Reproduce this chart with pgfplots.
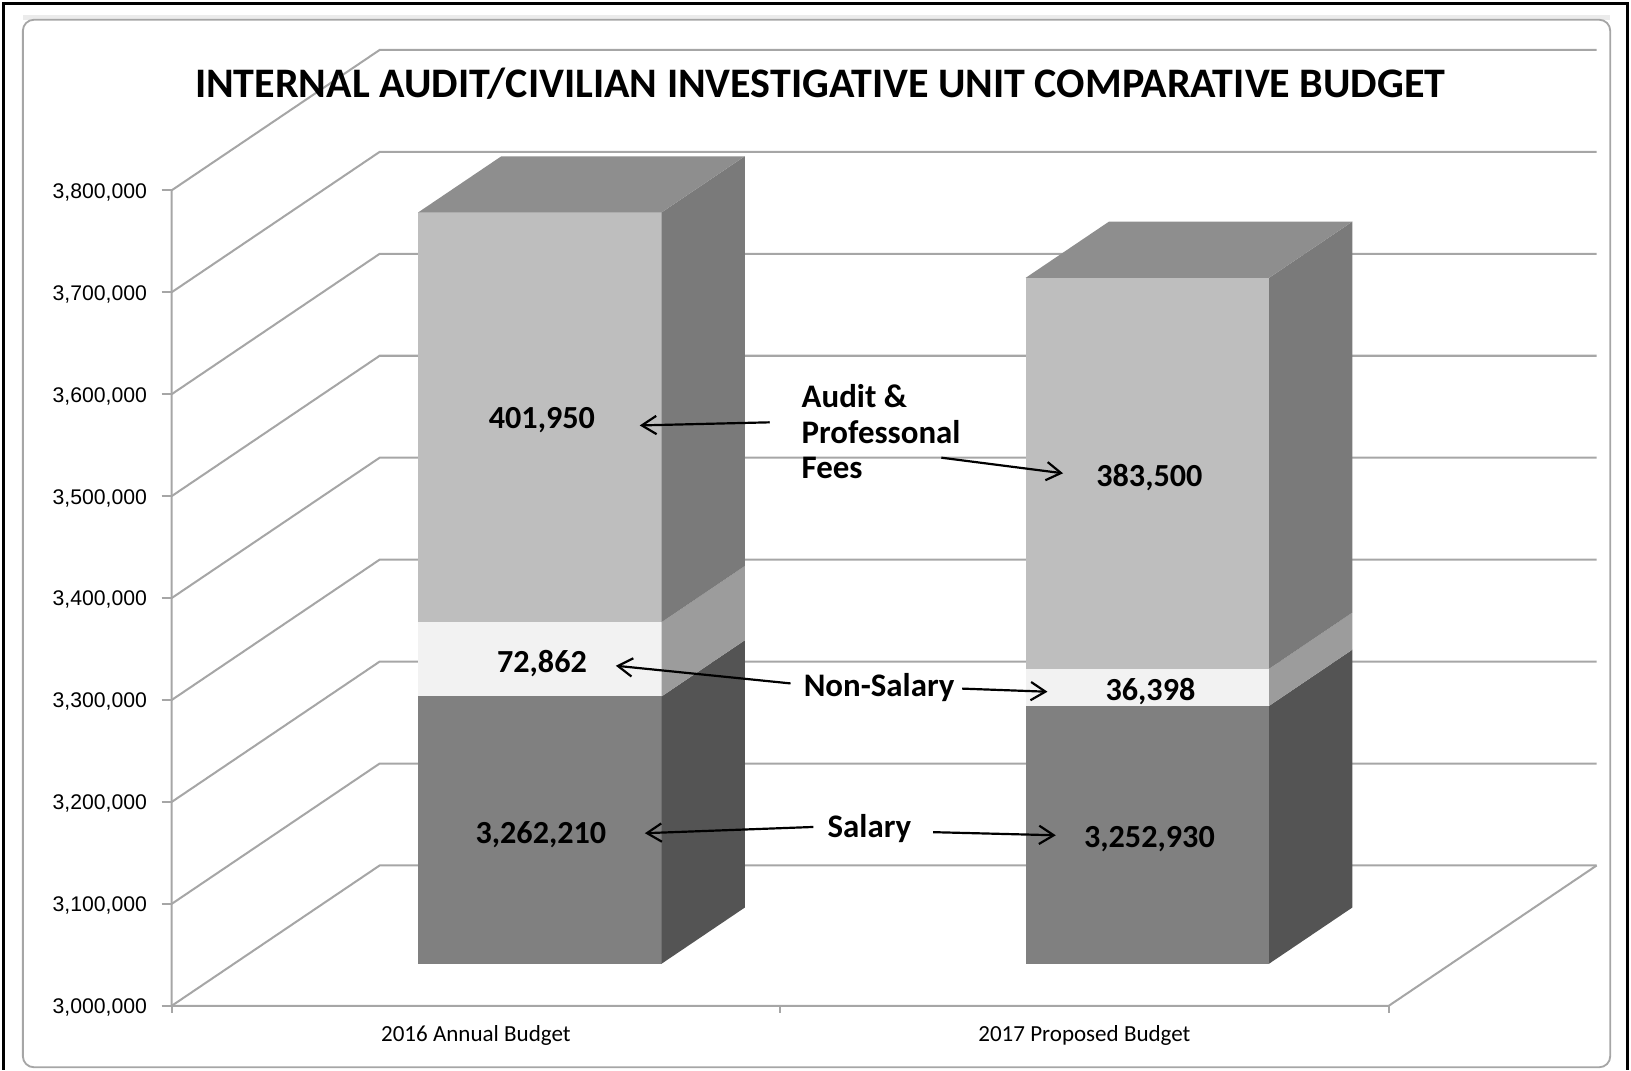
\documentclass[border=0pt]{standalone}
\usepackage{pgfplots}
\pgfplotsset{compat=1.18}
\usetikzlibrary{arrows.meta}
\usepackage{fontspec}
\setmainfont{Carlito}
\newfontfamily\tickfont{Liberation Sans}
\definecolor{gridc}{HTML}{A6A6A6}
\definecolor{topc}{HTML}{8E8E8E}
\definecolor{audfront}{HTML}{BEBEBE}
\definecolor{audside}{HTML}{7A7A7A}
\definecolor{nsfront}{HTML}{F2F2F2}
\definecolor{nsside}{HTML}{9C9C9C}
\definecolor{salfront}{HTML}{808080}
\definecolor{salside}{HTML}{545454}
% one stacked segment of a 3-D column: #1 left x, #2 right x, #3 bottom value, #4 top value, #5 front colour, #6 side colour
\newcommand\seg[6]{%
  \addplot[fill=#5, draw=none, forget plot] table[row sep=\\,
    x expr={\thisrow{x}+200*\thisrow{d}},
    y expr={(#3)+((#4)-(#3))*\thisrow{t}+137755*\thisrow{d}}]
    {x t d\\ #1 0 0.3\\ #2 0 0.3\\ #2 1 0.3\\ #1 1 0.3\\};
  \addplot[fill=#6, draw=none, forget plot] table[row sep=\\,
    x expr={\thisrow{x}+200*\thisrow{d}},
    y expr={(#3)+((#4)-(#3))*\thisrow{t}+137755*\thisrow{d}}]
    {x t d\\ #2 0 0.3\\ #2 0 0.7\\ #2 1 0.7\\ #2 1 0.3\\};
}
% top face: #1 left x, #2 right x, #3 top value
\newcommand\topface[3]{%
  \addplot[fill=topc, draw=none, forget plot] table[row sep=\\,
    x expr={\thisrow{x}+200*\thisrow{d}},
    y expr={(#3)+137755*\thisrow{d}}]
    {x d\\ #1 0.3\\ #2 0.3\\ #2 0.7\\ #1 0.7\\};
}
\begin{document}
\begin{tikzpicture}
\begin{axis}[
  scale only axis, width=13.70cm, height=9.20cm,
  xmin=0, xmax=1370, ymin=3000000, ymax=3938775.5,
  axis lines*=left, axis line style={draw=none},
  clip=false,
  xtick={292.5,877.5},
  xticklabels={2016 Annual Budget, 2017 Proposed Budget},
  xtick style={draw=none},
  ytick={3000000,3100000,3200000,3300000,3400000,3500000,3600000,3700000,3800000},
  scaled y ticks=false,
  tick align=outside,
  major tick length=0.096cm,
  ytick style={draw=gridc, line width=0.5pt},
  /pgf/number format/assume math mode=true,
  yticklabel style={/pgf/number format/fixed, /pgf/number format/precision=0,
    /pgf/number format/1000 sep={,},
    font=\tickfont\fontsize{5.8}{7}\selectfont, xshift=-0.5pt, yshift=-0.5pt},
  xticklabel style={font=\fontsize{6.3}{7.5}\selectfont, yshift=1pt},
]
% picture extent and frame
\coordinate (bbl) at (axis cs:-165,2936735);
\coordinate (btr) at (axis cs:1403,3986735);
\fill[black!8] (axis cs:-143,3972449) rectangle (axis cs:1383,3967347);
\draw[black!35, line width=0.5pt, rounded corners=3pt] (axis cs:-143,2939796) rectangle (axis cs:1383,3967347);
\draw[black, line width=0.8pt] (axis cs:-161.5,2937500) -- (axis cs:-161.5,3983163) -- (axis cs:1399.5,3983163) -- (axis cs:1399.5,2937500);

% walls and gridlines
\addplot[gridc, line width=0.55pt, forget plot] coordinates {(0,3000000) (200,3137755) (1370,3137755)};
\addplot[gridc, line width=0.55pt, forget plot] coordinates {(0,3100000) (200,3237755) (1370,3237755)};
\addplot[gridc, line width=0.55pt, forget plot] coordinates {(0,3200000) (200,3337755) (1370,3337755)};
\addplot[gridc, line width=0.55pt, forget plot] coordinates {(0,3300000) (200,3437755) (1370,3437755)};
\addplot[gridc, line width=0.55pt, forget plot] coordinates {(0,3400000) (200,3537755) (1370,3537755)};
\addplot[gridc, line width=0.55pt, forget plot] coordinates {(0,3500000) (200,3637755) (1370,3637755)};
\addplot[gridc, line width=0.55pt, forget plot] coordinates {(0,3600000) (200,3737755) (1370,3737755)};
\addplot[gridc, line width=0.55pt, forget plot] coordinates {(0,3700000) (200,3837755) (1370,3837755)};
\addplot[gridc, line width=0.55pt, forget plot] coordinates {(0,3800000) (200,3937755) (1370,3937755)};
\addplot[gridc, line width=0.55pt, forget plot] coordinates {(0,3800000) (0,3000000) (1170,3000000) (1370,3137755)};
\addplot[gridc, line width=0.55pt, forget plot] coordinates {(0,3000000) (0,2992857)};
\addplot[gridc, line width=0.55pt, forget plot] coordinates {(585,3000000) (585,2992857)};
\addplot[gridc, line width=0.55pt, forget plot] coordinates {(1170,3000000) (1170,2992857)};

% 2016 Annual Budget: salary 3,262,210; non-salary 72,862; audit & professional fees 401,950
\seg{177}{411}{3000000}{3262210}{salfront}{salside}
\seg{177}{411}{3262210}{3262210+72862}{nsfront}{nsside}
\seg{177}{411}{3262210+72862}{3262210+72862+401950}{audfront}{audside}
\topface{177}{411}{3262210+72862+401950}
% 2017 Proposed Budget: salary 3,252,930; non-salary 36,398; audit & professional fees 383,500
\seg{761}{995}{3000000}{3252930}{salfront}{salside}
\seg{761}{995}{3252930}{3252930+36398}{nsfront}{nsside}
\seg{761}{995}{3252930+36398}{3252930+36398+383500}{audfront}{audside}
\topface{761}{995}{3252930+36398+383500}

% title
\node[font=\bfseries\fontsize{11.5}{13}\selectfont] at (axis cs:623.5,3905102) {INTERNAL AUDIT/CIVILIAN INVESTIGATIVE UNIT COMPARATIVE BUDGET};

% value labels
\node[font=\bfseries\fontsize{8.8}{10}\selectfont] at (axis cs:356,3574531) {401,950};
\node[font=\bfseries\fontsize{8.8}{10}\selectfont] at (axis cs:356,3335755) {72,862};
\node[font=\bfseries\fontsize{8.8}{10}\selectfont] at (axis cs:355,3168408) {3,262,210};
\node[font=\bfseries\fontsize{8.8}{10}\selectfont] at (axis cs:940,3518408) {383,500};
\node[font=\bfseries\fontsize{8.8}{10}\selectfont] at (axis cs:941,3308204) {36,398};
\node[font=\bfseries\fontsize{8.8}{10}\selectfont] at (axis cs:940,3163306) {3,252,930};

% annotations
\node[anchor=west, align=left, inner sep=0pt, font=\bfseries\fontsize{9}{9.8}\selectfont] at (axis cs:605,3563286) {Audit \&\\Professonal\\Fees};
\node[anchor=west, inner sep=0pt, font=\bfseries\fontsize{9}{10}\selectfont] at (axis cs:607,3312286) {Non-Salary};
\node[anchor=west, inner sep=0pt, font=\bfseries\fontsize{9}{10}\selectfont] at (axis cs:630,3173510) {Salary};

\addplot[black, line width=0.6pt, -{Straight Barb[length=4pt,width=5pt]}, forget plot] coordinates {(575,3572449) (450,3569388)};
\addplot[black, line width=0.6pt, -{Straight Barb[length=4pt,width=5pt]}, forget plot] coordinates {(740,3537755) (857,3522449)};
\addplot[black, line width=0.6pt, -{Straight Barb[length=4pt,width=5pt]}, forget plot] coordinates {(595,3316327) (427,3333673)};
\addplot[black, line width=0.6pt, -{Straight Barb[length=4pt,width=5pt]}, forget plot] coordinates {(760,3311224) (842,3308163)};
\addplot[black, line width=0.6pt, -{Straight Barb[length=4pt,width=5pt]}, forget plot] coordinates {(617,3175510) (455,3169388)};
\addplot[black, line width=0.6pt, -{Straight Barb[length=4pt,width=5pt]}, forget plot] coordinates {(732,3170408) (850,3167347)};
\end{axis}
\pgfresetboundingbox
\useasboundingbox (bbl) rectangle (btr);
\end{tikzpicture}
\end{document}
